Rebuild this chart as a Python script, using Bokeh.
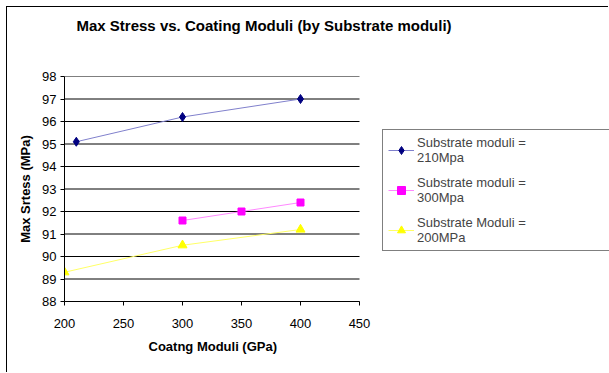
from bokeh.plotting import figure
from bokeh.models import (Range1d, FixedTicker, Legend, LegendItem, Title)
from bokeh.embed import file_html
from bokeh.resources import INLINE

title_text = "Max Stress vs. Coating Moduli (by Substrate moduli)"
x_label = "Coatng Moduli (GPa)"
y_label = "Max Srtess (MPa)"

x_ticks = [200, 250, 300, 350, 400, 450]
y_ticks = [88, 89, 90, 91, 92, 93, 94, 95, 96, 97, 98]

s1_name = "Substrate moduli =\n210Mpa"
s1_x = [210, 300, 400]
s1_y = [95.1, 96.2, 97.0]

s2_name = "Substrate moduli =\n300Mpa"
s2_x = [300, 350, 400]
s2_y = [91.6, 92.0, 92.4]

s3_name = "Substrate Moduli =\n200MPa"
s3_x = [200, 300, 400]
s3_y = [89.3, 90.5, 91.2]

FONT = "Liberation Sans"

# canvas starts at (7, 7) in the window; plot area 64..359 x 76..301 in window
W, H = 602, 366
frame_left, frame_right_axis = 64 - 7, 359 - 7
x_lo, x_hi = x_ticks[0], x_ticks[-1]
# frame extends to the right canvas edge so the legend is not clipped
x_end = x_hi + (W - frame_right_axis) * (x_hi - x_lo) / (frame_right_axis - frame_left)

p = figure(width=W, height=H, output_backend="svg", toolbar_location=None,
           x_range=Range1d(x_lo, x_end), y_range=Range1d(y_ticks[0], y_ticks[-1]),
           min_border_left=frame_left, min_border_right=0, min_border_top=69, min_border_bottom=72,
           background_fill_color="white", border_fill_color="white")
p.styles = {"margin-left": "7px", "margin-top": "7px",
            "box-shadow": "-1px -1px 0px 0px black"}
p.outline_line_color = None

# title block: first line carries the title, two blank lines lift it upward
p.title.text = title_text + "\n\n"
p.title.text_font = FONT
p.title.text_font_size = "15px"
p.title.text_font_style = "bold"
p.title.text_color = "black"
p.title.text_line_height = 1.2
p.title.align = "left"
p.title.offset = 12
p.title.vertical_align = "bottom"
p.title.standoff = 4

p.xgrid.grid_line_color = None
p.ygrid.grid_line_color = None
p.segment(x0=[x_lo] * len(y_ticks), x1=[x_hi] * len(y_ticks), y0=y_ticks, y1=y_ticks,
          line_color="black", line_width=1)

for ax in (p.xaxis[0], p.yaxis[0]):
    ax.axis_line_color = "black"
    ax.major_tick_line_color = "black"
    ax.major_tick_in = 0
    ax.major_tick_out = 4
    ax.minor_tick_line_color = None
    ax.major_label_text_font = FONT
    ax.major_label_text_font_size = "13px"
    ax.major_label_text_color = "black"
    ax.axis_label_text_font = FONT
    ax.axis_label_text_font_size = "13px"
    ax.axis_label_text_font_style = "bold"
    ax.axis_label_text_color = "black"

p.xaxis.ticker = FixedTicker(ticks=x_ticks)
p.yaxis.ticker = FixedTicker(ticks=y_ticks)
p.xaxis.bounds = (x_lo, x_hi)
p.yaxis.axis_label = y_label
p.xaxis.major_label_standoff = 13
p.yaxis.major_label_standoff = 4
p.yaxis.axis_label_standoff = 6

xt = Title(text=x_label, text_font=FONT, text_font_size="13px", text_font_style="bold",
           text_color="black", align="left", offset=84, standoff=12)
p.add_layout(xt, "below")

l1 = p.line(s1_x, s1_y, line_color="#8080cc", line_width=1)
m1 = p.scatter(s1_x, s1_y, marker="diamond", size=9, fill_color="#000080", line_color="#000080")
l2 = p.line(s2_x, s2_y, line_color="#ff88ff", line_width=1)
m2 = p.scatter(s2_x, s2_y, marker="square", size=7, fill_color="#ff00ff", line_color="#ff00ff")
l3 = p.line(s3_x, s3_y, line_color="#ffff66", line_width=1)
m3 = p.scatter(s3_x, s3_y, marker="triangle", size=9, fill_color="#ffff00", line_color="#ffff00")

legend = Legend(items=[
    LegendItem(label=s1_name, renderers=[l1, m1]),
    LegendItem(label=s2_name, renderers=[l2, m2]),
    LegendItem(label=s3_name, renderers=[l3, m3]),
], location=(318, 50))
legend.border_line_color = "black"
legend.border_line_width = 1
legend.background_fill_color = "white"
legend.label_text_font = FONT
legend.label_text_font_size = "13px"
legend.label_text_line_height = 1.6
legend.label_width = 260
legend.glyph_width = 26
legend.label_standoff = 3
legend.padding = 5
legend.spacing = 10
legend.margin = 0
p.add_layout(legend, "center")

open("out.html", "w").write(file_html(p, INLINE))
